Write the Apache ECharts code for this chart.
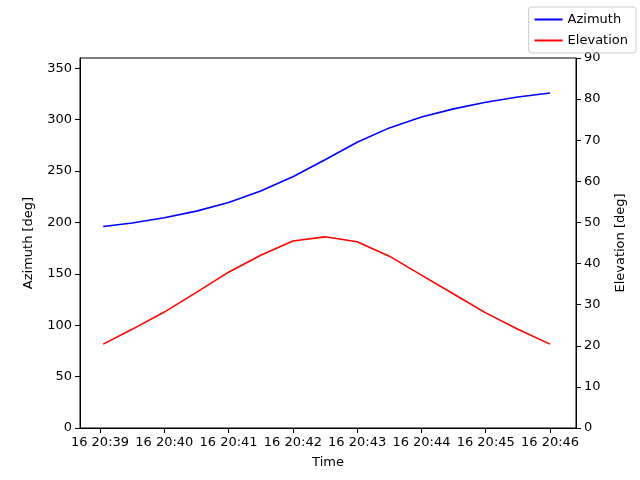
<!DOCTYPE html>
<html><head><meta charset="utf-8">
<script src="https://cdn.jsdelivr.net/npm/echarts@6/dist/echarts.min.js"></script>
<style>html,body{margin:0;padding:0;background:#fff}#c{width:640px;height:480px}</style>
</head><body><div id="c"></div>
<script>
const minutes = [0.05,0.5,1,1.5,2,2.5,3,3.5,4,4.5,5,5.5,6,6.5,7];
const azimuth = [196,199.5,204.5,211,219.5,230.5,244.5,261,278,292,302.5,310.5,317,322,326];
const elevation = [20.4,24,28.2,33,37.9,42,45.5,46.5,45.3,41.8,37.2,32.6,28,24,20.4];
const tickLabels = ['16 20:39','16 20:40','16 20:41','16 20:42','16 20:43','16 20:44','16 20:45','16 20:46'];
const tickVals = tickLabels.map((_, i) => i);
const f = 'DejaVu Sans';
const ch = echarts.init(document.getElementById('c'));
ch.setOption({
  animation:false,
  textStyle:{fontFamily:f},
  grid:{left:80,right:64,top:58,bottom:52},
  legend:{right:4,top:7,orient:'vertical',itemWidth:28,itemHeight:2,itemGap:8,
    borderColor:'#ccc',borderWidth:1,borderRadius:3,padding:[6,8,6,6],
    textStyle:{fontFamily:f,fontSize:13,color:'#000'},icon:'rect',
    data:['Azimuth','Elevation']},
  xAxis:{type:'value',min:-0.311,max:7.404,name:'Time',nameLocation:'middle',nameGap:28,
    nameTextStyle:{fontFamily:f,fontSize:13,color:'#000'},
    axisLine:{onZero:false,lineStyle:{color:'#000'}},splitLine:{show:false},
    axisTick:{customValues:tickVals,length:5,lineStyle:{color:'#000'}},
    axisLabel:{customValues:tickVals,formatter:v=>tickLabels[Math.round(v)],fontFamily:f,fontSize:13,color:'#000',margin:8}},
  yAxis:[
    {type:'value',min:0,max:360,interval:50,name:'Azimuth [deg]',nameLocation:'middle',nameGap:45,
     nameTextStyle:{fontFamily:f,fontSize:13,color:'#000'},position:'left',
     axisLine:{show:true,onZero:false,lineStyle:{color:'#000'}},axisTick:{show:true,length:5,lineStyle:{color:'#000'}},splitLine:{show:false},
     axisLabel:{fontFamily:f,fontSize:13,color:'#000',showMaxLabel:false}},
    {type:'value',min:0,max:90,interval:10,name:'Elevation [deg]',nameLocation:'middle',nameGap:38,
     nameTextStyle:{fontFamily:f,fontSize:13,color:'#000'},position:'right',
     axisLine:{show:true,onZero:false,lineStyle:{color:'#000'}},axisTick:{show:true,length:5,lineStyle:{color:'#000'}},splitLine:{show:false},
     axisLabel:{fontFamily:f,fontSize:13,color:'#000'}}
  ],
  series:[
    {name:'Azimuth',type:'line',yAxisIndex:0,showSymbol:false,color:'#0000ff',lineStyle:{width:1.6,color:'#0000ff'},
     data:minutes.map((m,i)=>[m,azimuth[i]])},
    {name:'Elevation',type:'line',yAxisIndex:1,showSymbol:false,color:'#ff0000',lineStyle:{width:1.6,color:'#ff0000'},
     data:minutes.map((m,i)=>[m,elevation[i]])}
  ],
  graphic:[{type:'rect',shape:{x:80,y:58,width:496,height:370},style:{fill:'none',stroke:'#000',lineWidth:1},silent:true,z:10}]
});
</script></body></html>
